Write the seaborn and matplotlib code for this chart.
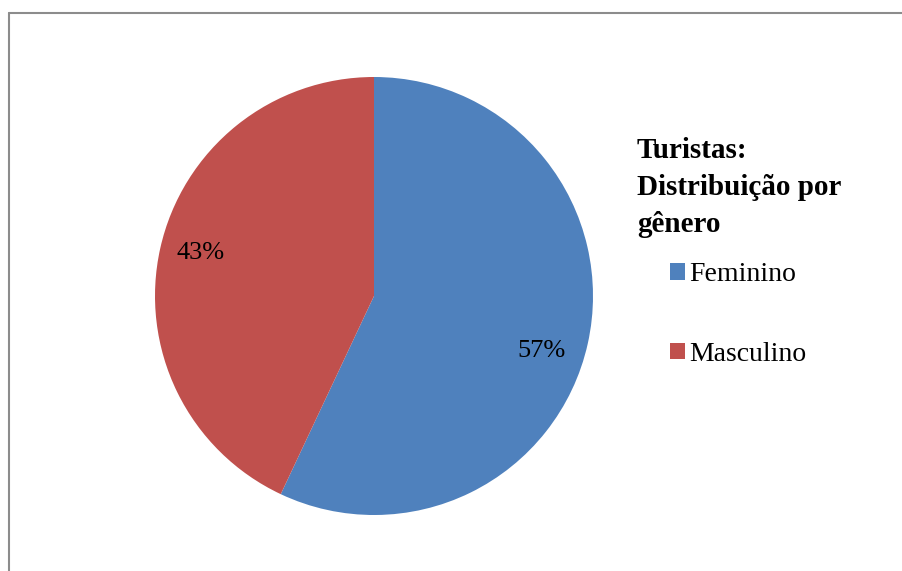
import matplotlib
matplotlib.use("Agg")
import matplotlib.pyplot as plt
import seaborn as sns
from matplotlib.lines import Line2D
from matplotlib.patches import Patch

categories = ["Feminino", "Masculino"]
values = [57, 43]
colors = ["#4F81BD", "#C0504D"]
title = "Turistas:\nDistribuição por\ngênero"

sns.set_theme(style="white")
plt.rcParams["font.family"] = ["Liberation Serif", "DejaVu Serif"]
plt.rcParams["text.color"] = "black"

W, H = 903, 571
fig = plt.figure(figsize=(W / 100, H / 100), dpi=100)
fig.patch.set_facecolor("white")

cx, cy, r = 374, 571 - 296, 219
ax = fig.add_axes([(cx - r) / W, (cy - r) / H, 2 * r / W, 2 * r / H])
wedges, texts, autotexts = ax.pie(
    values, colors=colors, startangle=90, counterclock=False,
    autopct=lambda p: f"{p:.0f}%", pctdistance=0.8,
    wedgeprops=dict(linewidth=0), textprops=dict(fontsize=19, color="black"),
)
# best-fit style label placement (as in the original)
autotexts[0].set_position((0.765, -0.25))
autotexts[1].set_position((-0.79, 0.195))
ax.set_xlim(-1, 1)
ax.set_ylim(-1, 1)
ax.set_aspect("equal")
ax.axis("off")

# figure border (left and top visible)
fig.add_artist(Line2D([9.5 / W, 9.5 / W], [0, 1 - 12.5 / H], transform=fig.transFigure,
                      color="#8c8c8c", lw=1.5))
fig.add_artist(Line2D([9.5 / W, 1], [1 - 12.5 / H, 1 - 12.5 / H], transform=fig.transFigure,
                      color="#8c8c8c", lw=1.5))

fig.text(637 / W, 1 - 137 / H, title, ha="left", va="top", fontsize=21,
         fontweight="bold", linespacing=1.47, color="black")

handles = [Patch(facecolor=c, edgecolor="none") for c in colors]
leg = fig.legend(handles, categories, loc="upper left", bbox_to_anchor=(670 / W, 1 - 262 / H),
                 frameon=False, fontsize=20, handlelength=0.55, handleheight=0.55,
                 handletextpad=0.15, labelspacing=1.97, borderpad=0, borderaxespad=0)
for t in leg.get_texts():
    t.set_color("black")

fig.savefig("out.png", dpi=100, facecolor="white")
